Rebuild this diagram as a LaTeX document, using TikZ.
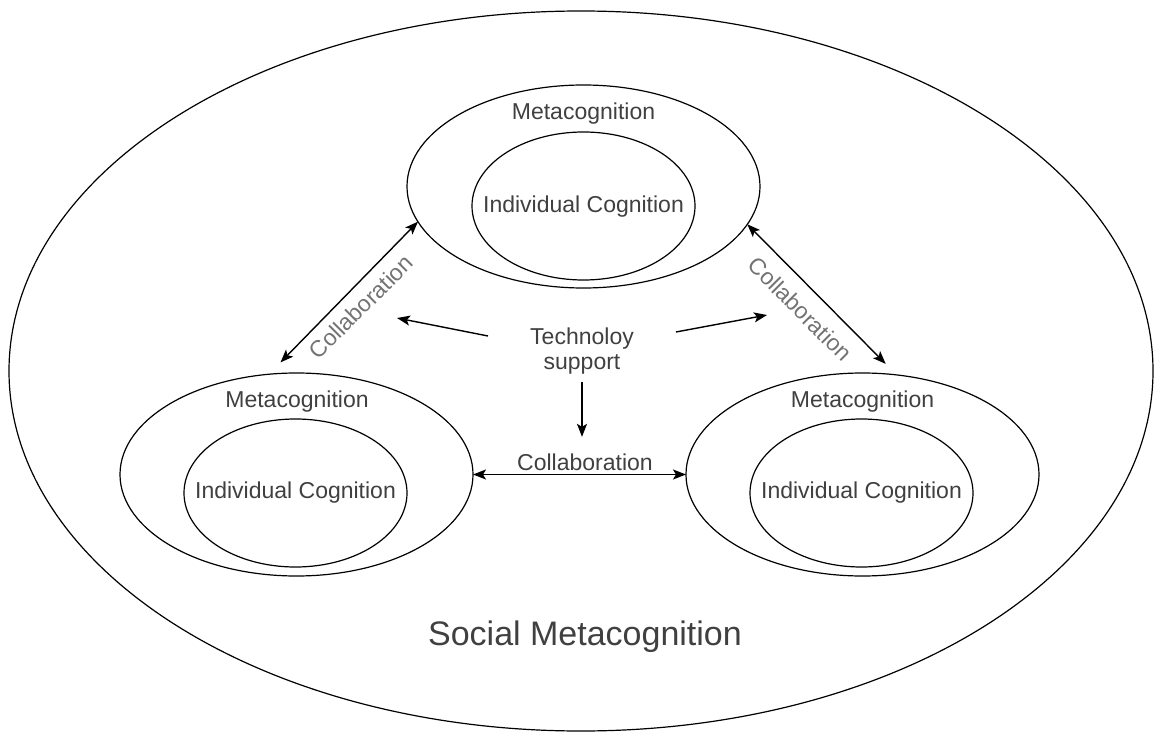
\documentclass[tikz,border=0pt]{standalone}
\usepackage{fontspec}
\setmainfont{Liberation Sans}
\usetikzlibrary{shapes.geometric,arrows.meta}

\begin{document}
\begin{tikzpicture}[x=1pt,y=1pt,yscale=-1,xscale=1,
    oval/.style={draw, ellipse, line width=1.2pt, inner sep=0pt, outer sep=0pt},
    outeroval/.style={oval, minimum width=353pt, minimum height=203pt},
    inneroval/.style={oval, minimum width=223pt, minimum height=148pt},
    txt/.style={font=\fontsize{23}{25}\selectfont, text=black!75, inner sep=0pt},
    slopetxt/.style={txt, text=black!55},
    link/.style={line width=1.4pt, {Stealth[length=13pt,width=10pt,inset=3pt]}-{Stealth[length=13pt,width=10pt,inset=3pt]}},
    pointer/.style={line width=1.4pt, -{Stealth[length=13pt,width=10pt,inset=3pt]}}]
    \useasboundingbox (0,0) rectangle (1154,733);

    %Shape: Ellipse (social)
    \node (social) at (581,371) [oval, minimum width=1144pt, minimum height=720pt] {};
    % Text Node
    \node (soctxt) at (585,637) [txt, font=\fontsize{34}{36}\selectfont] {Social Metacognition};

    %Shape: Ellipse (top)
    \node (ctop) at (583.5,186.5) [outeroval] {};
    \node (itop) at (583.5,206) [inneroval] {};
    % Text Node
    \node (mtop) at (583.5,114) [txt] {Metacognition};
    \node (ttop) at (583.5,207) [txt] {Individual Cognition};

    %Shape: Ellipse (left)
    \node (cleft) at (296.5,474.5) [outeroval] {};
    \node (ileft) at (295.5,493) [inneroval] {};
    % Text Node
    \node (mleft) at (297,402) [txt] {Metacognition};
    \node (tleft) at (295.5,493) [txt] {Individual Cognition};

    %Shape: Ellipse (right)
    \node (cright) at (862.5,474.5) [outeroval] {};
    \node (iright) at (861.5,493) [inneroval] {};
    % Text Node
    \node (mright) at (862.5,402) [txt] {Metacognition};
    \node (tright) at (861.5,493) [txt] {Individual Cognition};

    % Text Node
    \node (tech) at (582,351.5) [txt, align=center] {Technoloy\\support};
    \node (bcol) at (585,462) [txt] {Collaboration};
    \node (lcol) at (361,307) [slopetxt, rotate=45] {Collaboration};
    \node (rcol) at (800,309) [slopetxt, rotate=-45] {Collaboration};

    %Straight Lines
    \coordinate (tl) at (397,318);
    \coordinate (tr) at (767,315);
    \draw [link] (ctop.192) -- ([shift={(0,-11)}]cleft.99);
    \draw [link] (ctop.347) -- ([shift={(0,-10)}]cright.77);
    \draw [link] (cleft.east) -- (cright.west);
    \draw [pointer] ([shift={(-42,-15.5)}]tech.west) -- (tl);
    \draw [pointer] ([shift={(42,-19.5)}]tech.east) -- (tr);
    \draw [pointer, shorten <=7pt, shorten >=16.5pt] (tech.south) -- (tech.south |- bcol.north);
\end{tikzpicture}
\end{document}
